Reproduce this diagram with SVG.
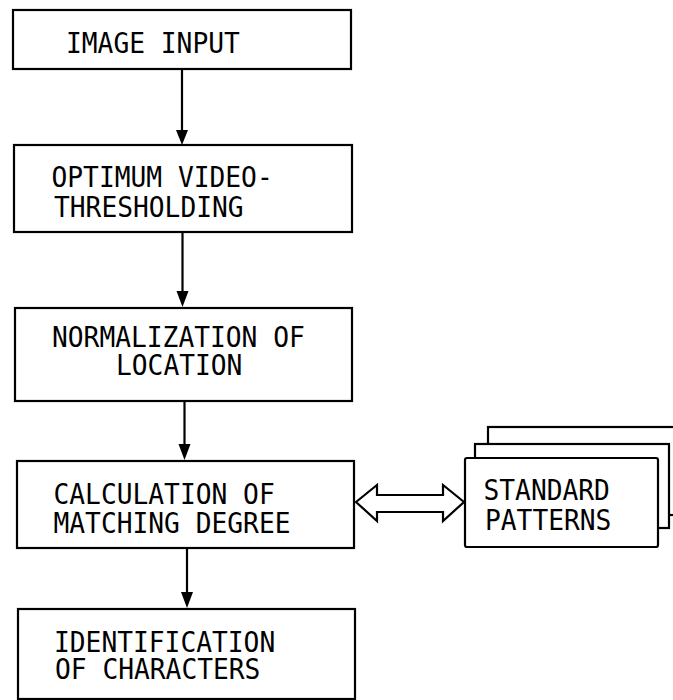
<svg xmlns="http://www.w3.org/2000/svg" width="673" height="700" viewBox="0 0 673 700">
  <style>
    .box { fill: #fff; stroke: #000; stroke-width: 2.2; }
    .lbl { font-family: "DejaVu Sans Mono", "Liberation Mono", monospace; font-size: 28px; fill: #000; }
    .wire { stroke: #000; stroke-width: 2.2; fill: none; }
  </style>
  <rect width="673" height="700" fill="#fff"/>

  <g id="connectors">
    <line class="wire" x1="182" y1="69" x2="182" y2="131"/>
    <path d="M176 130 L188 130 L182 145 Z"/>
    <line class="wire" x1="182.5" y1="232" x2="182.5" y2="292"/>
    <path d="M176.5 291 L188.5 291 L182.5 307 Z"/>
    <line class="wire" x1="184.5" y1="401" x2="184.5" y2="445"/>
    <path d="M178.5 444 L190.5 444 L184.5 460 Z"/>
    <line class="wire" x1="187" y1="548" x2="187" y2="593"/>
    <path d="M181 592 L193 592 L187 608 Z"/>
    <!-- hollow two-way arrow between matcher and pattern store -->
    <path class="wire" d="M356 502 L377 485 L377 495 L443 495 L443 485 L464 502 L443 521 L443 512 L377 512 L377 521 Z" stroke-linejoin="miter"/>
  </g>

  <g id="image-input">
    <rect class="box" x="13" y="10" width="338" height="59"/>
    <text class="lbl" x="66" y="53" textLength="173.8" lengthAdjust="spacingAndGlyphs">IMAGE INPUT</text>
  </g>

  <g id="thresholding">
    <rect class="box" x="14" y="145" width="338" height="87"/>
    <text class="lbl" x="51.5" y="187" textLength="221.2" lengthAdjust="spacingAndGlyphs">OPTIMUM VIDEO-</text>
    <text class="lbl" x="54" y="217" textLength="189.6" lengthAdjust="spacingAndGlyphs">THRESHOLDING</text>
  </g>

  <g id="normalization">
    <rect class="box" x="15" y="308" width="337" height="93"/>
    <text class="lbl" x="52" y="347" textLength="252.8" lengthAdjust="spacingAndGlyphs">NORMALIZATION OF</text>
    <text class="lbl" x="116" y="375" textLength="126.4" lengthAdjust="spacingAndGlyphs">LOCATION</text>
  </g>

  <g id="matching">
    <rect class="box" x="17" y="461" width="337" height="87"/>
    <text class="lbl" x="53.5" y="504" textLength="221.2" lengthAdjust="spacingAndGlyphs">CALCULATION OF</text>
    <text class="lbl" x="53.5" y="533" textLength="237" lengthAdjust="spacingAndGlyphs">MATCHING DEGREE</text>
  </g>

  <g id="standard-patterns">
    <rect class="box" x="488" y="427" width="190" height="88"/>
    <rect class="box" x="475" y="444" width="194" height="84"/>
    <rect class="box" x="465" y="458" width="193" height="89" rx="2"/>
    <text class="lbl" x="483.5" y="500" textLength="126.4" lengthAdjust="spacingAndGlyphs">STANDARD</text>
    <text class="lbl" x="485" y="530" textLength="126.4" lengthAdjust="spacingAndGlyphs">PATTERNS</text>
  </g>

  <g id="identification">
    <rect class="box" x="18" y="609" width="337" height="90"/>
    <text class="lbl" x="54" y="652" textLength="221.2" lengthAdjust="spacingAndGlyphs">IDENTIFICATION</text>
    <text class="lbl" x="55" y="679" textLength="205.4" lengthAdjust="spacingAndGlyphs">OF CHARACTERS</text>
  </g>
</svg>
